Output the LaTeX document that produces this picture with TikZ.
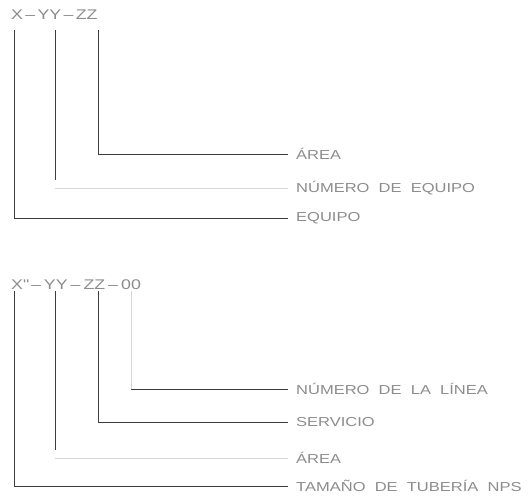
\documentclass[tikz,border=0pt]{standalone}
\usepackage{fontspec}
\setmainfont{Liberation Sans}
\newfontfamily\cadfont[FakeStretch=1.27]{Liberation Sans}
\usepackage{tikz}
\usepackage{xcolor}
\usetikzlibrary{positioning}

\definecolor{cadtext}{RGB}{140,140,140}
\definecolor{cadline}{RGB}{60,60,60}
\definecolor{cadfaint}{RGB}{215,215,215}

\newcommand{\cadsep}{\kern3pt–\kern3pt}

\tikzset{
  code/.style={anchor=west,inner sep=0pt,text=cadtext,font=\cadfont\fontsize{14}{16}\selectfont},
  tag/.style={anchor=west,inner sep=0pt,text=cadtext,font=\cadfont\fontsize{13}{15}\selectfont},
  lead/.style={draw=cadline,line width=0.9pt,shorten >=8pt},
  leadfaint/.style={draw=cadfaint,line width=0.9pt,shorten >=8pt}
}

\begin{document}
\begin{tikzpicture}[x=1pt,y=-1pt]
        \useasboundingbox (0,0) rectangle (532,497);
        % equipo
        \node[code] (codeA) at (11,15) {X\,–\,YY\,–\,ZZ};
        \coordinate (a1) at (14,30);
        \coordinate (a2) at (55,30);
        \coordinate (a3) at (98,30);
        \node[tag] (areaA) at (296,154) {ÁREA};
        \node[tag] (numA) at (296,188) {NÚMERO\ \ DE\ \ EQUIPO};
        \node[tag] (equipo) at (296,218) {EQUIPO};
        \coordinate (a2c) at (55,188);
        \draw[lead] (a3) |- (areaA.west);
        \draw[lead] (a2) -- (a2c);
        \draw[leadfaint] (a2c) -- (numA.west);
        \draw[lead] (a1) |- (equipo.west);
        % tuberia
        \node[code] (codeB) at (11,285) {X\textquotedbl\cadsep YY\cadsep ZZ\cadsep 00};
        \coordinate (b1) at (14,291);
        \coordinate (b2) at (55,291);
        \coordinate (b3) at (98,291);
        \coordinate (b4) at (131,291);
        \node[tag] (linea) at (296,389) {NÚMERO\ \ DE\ \ LA\ \ LÍNEA};
        \node[tag] (servicio) at (296,422) {SERVICIO};
        \node[tag] (areaB) at (296,458) {ÁREA};
        \node[tag] (tamano) at (296,486) {TAMAÑO\ \ DE\ \ TUBERÍA\ \ NPS};
        \coordinate (b4c) at (131,389);
        \coordinate (b2c) at (55,458);
        \draw[draw=cadfaint,line width=0.9pt] (b4) -- (b4c);
        \draw[lead] (b4c) -- (linea.west);
        \draw[lead] (b3) |- (servicio.west);
        \draw[lead] (b2) -- (b2c);
        \draw[leadfaint] (b2c) -- (areaB.west);
        \draw[lead] (b1) |- (tamano.west);
\end{tikzpicture}
\end{document}
